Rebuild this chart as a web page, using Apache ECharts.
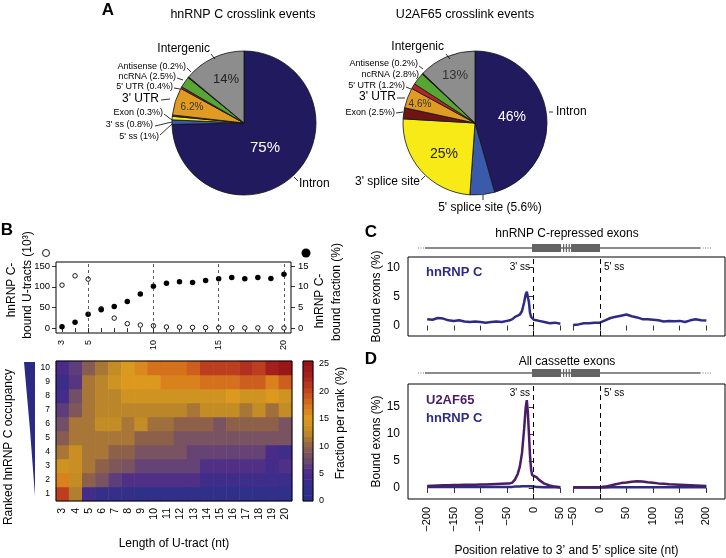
<!DOCTYPE html>
<html lang="en">
<head>
<meta charset="UTF-8">
<title>hnRNP C / U2AF65 crosslinks</title>
<script src="https://cdn.jsdelivr.net/npm/echarts@6.0.0/dist/echarts.min.js"></script>
<style>
    html, body { margin: 0; padding: 0; background: #fff; }
    #main { width: 726px; height: 558px; }
</style>
</head>
<body>
<div id="main"></div>
<script type="text/javascript">
// ---- A: crosslink events per region (%), clockwise from 12 o'clock
var pieNames = ['Intron', "5' ss", "3' ss", 'Exon', "3' UTR", "5' UTR", 'ncRNA', 'Antisense', 'Intergenic'];
var hnrnpPie = [75, 1, 0.8, 0.3, 6.2, 0.4, 2.5, 0.2, 14];
var u2afPie = [46, 5.6, 25, 2.5, 4.6, 1.2, 2.8, 0.2, 13];

// ---- B: U-tracts
var tractLen = [3, 4, 5, 6, 7, 8, 9, 10, 11, 12, 13, 14, 15, 16, 17, 18, 19, 20];
var boundTracts = [104, 126.5, 118.5, 46.8, 24, 10.5, 7.3, 5.6, 2.6, 2.2, 1.5, 1.2, 0.6, 0.6, 0.4, 0.4, 0.3, 0.2];   // x10^3
var boundFraction = [0.3, 1.4, 3.3, 4.4, 5.2, 6.4, 8.2, 10.1, 10.8, 11.2, 11.0, 11.5, 11.9, 12.2, 11.9, 12.2, 12.0, 13.0];
var xLabelsB = [3, 5, 10, 15, 20];
var ranks = [1, 2, 3, 4, 5, 6, 7, 8, 9, 10];
// fraction per rank (%), rows = rank 1..10, columns = U-tract length 3..20
var rankFraction = [
    [21, 12, 4.5, 3, 3, 3, 2.5, 2.5, 2.5, 2.5, 2.5, 2.5, 2.2, 2.5, 2.5, 2.2, 2.5, 2.5],
    [17, 13, 10, 8.5, 6.5, 5.5, 5.5, 5.5, 5.5, 5.5, 5.5, 4, 4, 4, 4, 4, 4, 3.5],
    [14, 13.5, 11.5, 10, 9, 8.5, 7, 7, 7, 7, 7, 5.5, 5.5, 5.5, 5.5, 5.5, 4.5, 5.5],
    [11.5, 13.5, 11.5, 11.5, 10, 10, 8.5, 8.5, 8.5, 8.5, 7, 7, 7, 7, 7, 7, 5, 4],
    [9.5, 11.5, 11.5, 11.5, 11.5, 11.5, 10, 10, 10, 8.5, 8.5, 8.5, 8.5, 8.5, 8.5, 8.5, 8.5, 8.5],
    [8, 11.5, 11.5, 13, 13, 11.5, 13, 11, 11, 10, 10, 10, 8.5, 10, 10, 10, 10, 8.5],
    [6.5, 9, 11.5, 12.5, 12.5, 12.5, 12.5, 12.5, 12.5, 12.5, 11.5, 13, 13, 13, 11.5, 13, 11, 13],
    [4.5, 8, 11.5, 12.5, 12.5, 14, 14, 14, 14, 14, 14, 14, 14, 15.5, 14, 14, 15.5, 14],
    [3.5, 6, 11.5, 12.5, 14, 15.5, 15.5, 15.5, 17, 17, 17, 18, 18, 18, 19, 19, 17, 19],
    [5, 6.5, 9.5, 11.5, 13, 15, 16.5, 18, 18, 18, 19, 21, 21, 21, 22, 21, 23.5, 25]
];
var colorbarTicks = [0, 5, 10, 15, 20, 25];

// ---- C/D: bound exons (%) around 3' ss and 5' ss
var pos3 = [-200, -190, -180, -170, -160, -150, -140, -130, -120, -110, -100, -90, -80, -70, -60, -50, -45, -40, -35, -30, -26, -22, -18, -15, -13, -11, -9, -7, -5, -3, 0, 5, 10, 20, 30, 40, 50];
var pos5 = [-50, -40, -30, -20, -10, 0, 10, 20, 30, 40, 50, 60, 70, 80, 90, 100, 110, 120, 130, 140, 150, 160, 170, 180, 190, 200];
var cHnrnp3 = [1.1, 1.0, 1.3, 1.2, 0.9, 0.8, 0.9, 0.7, 0.6, 0.7, 0.6, 0.5, 0.6, 0.7, 0.6, 0.8, 0.9, 1.1, 1.5, 1.7, 1.9, 2.5, 4.0, 5.4, 5.8, 5.6, 4.0, 2.2, 1.5, 1.2, 1.0, 0.9, 0.8, 0.6, 0.4, 0.5, 0.3];
var cHnrnp5 = [0.1, 0.2, 0.4, 0.4, 0.5, 0.5, 0.9, 1.3, 1.5, 1.7, 1.9, 1.6, 1.4, 1.1, 1.1, 1.0, 0.9, 0.7, 0.8, 0.75, 0.8, 0.6, 0.9, 1.1, 0.9, 0.85];
var dU2af3 = [0.35, 0.4, 0.45, 0.5, 0.5, 0.55, 0.55, 0.6, 0.6, 0.6, 0.65, 0.65, 0.7, 0.75, 0.8, 0.85, 0.85, 1.0, 1.6, 2.6, 4.0, 6.5, 11.0, 15.0, 16.3, 14.0, 10.0, 6.0, 3.5, 2.4, 2.2, 2.0, 1.5, 0.8, 0.45, 0.25, 0.15];
var dU2af5 = [0.15, 0.12, 0.12, 0.12, 0.12, 0.15, 0.25, 0.45, 0.7, 0.9, 1.0, 1.15, 1.25, 1.2, 1.05, 0.95, 0.85, 0.8, 0.7, 0.65, 0.6, 0.55, 0.5, 0.45, 0.4, 0.35];
var dHnrnp3 = [0.2, 0.2, 0.2, 0.2, 0.2, 0.2, 0.2, 0.2, 0.2, 0.2, 0.2, 0.2, 0.2, 0.2, 0.2, 0.2, 0.2, 0.2, 0.25, 0.25, 0.25, 0.3, 0.3, 0.3, 0.3, 0.3, 0.3, 0.3, 0.3, 0.3, 0.25, 0.2, 0.2, 0.15, 0.15, 0.15, 0.1];
var dHnrnp5 = [0.1, 0.1, 0.1, 0.1, 0.1, 0.1, 0.1, 0.15, 0.15, 0.15, 0.15, 0.15, 0.15, 0.15, 0.15, 0.15, 0.15, 0.15, 0.15, 0.15, 0.15, 0.15, 0.15, 0.15, 0.15, 0.15];
var posTicks3 = [-200, -150, -100, -50, 0, 50];
var posTicks5 = [-50, 0, 50, 100, 150, 200];

var FONT = "'Liberation Sans', Arial, sans-serif";
var SHIFT5 = 124;   // where the 5' ss window starts on the shared x axis
var pieColors = ['#211a5e', '#3a5bab', '#f7ea16', '#6e1414', '#e09c22', '#b52428', '#57a533', '#111111', '#8d8d8d'];
var heatColors = ['#2b2e87', '#30308a', '#4a2b8a', '#6e4b6e', '#906247', '#c08a26', '#de9c1e', '#d6731d', '#c2471f', '#a8221f', '#971416'];
var hnColor = '#2e2b86', u2Color = '#4a1c68';

var chart = echarts.init(document.getElementById('main'));

function pieData(vals) {
    return vals.map(function (v, i) { return { name: pieNames[i], value: v, itemStyle: { color: pieColors[i] } }; });
}
function seg(pos, vals, shift) {
    return pos.map(function (p, i) { return [p + shift, vals[i]]; });
}
var heatData = [];
rankFraction.forEach(function (row, r) {
    row.forEach(function (v, c) { heatData.push([c, r, v]); });
});
var cbBands = [], cbData = [];
for (var k = 0; k < 26; k++) { cbBands.push(k); cbData.push([0, k, k + 0.5]); }
var posTicks = posTicks3.concat(posTicks5.map(function (p) { return p + SHIFT5; }));
function posLabel(v) {
    var p = v > 60 ? v - SHIFT5 : v;
    return p < 0 ? '\u2212' + (-p) : '' + p;
}

// ---- text helpers
function txt(x, y, s, size, align, color, weight, rot) {
    return {
        type: 'text', x: x, y: y, z: 100, rotation: rot || 0, silent: true,
        style: { text: s, fill: color || '#000', font: (weight || 'normal') + ' ' + size + 'px ' + FONT,
                 align: align || 'center', verticalAlign: 'middle' }
    };
}
function seg2(x1, y1, x2, y2, w, color, dash) {
    return { type: 'line', silent: true, z: 100, shape: { x1: x1, y1: y1, x2: x2, y2: y2 },
             style: { stroke: color || '#000', lineWidth: w || 0.8, lineDash: dash || null } };
}
function exonDiagram(y) {
    return [
        seg2(418, y, 425, y, 1.2, '#777', [1, 1.5]),
        seg2(425, y, 700, y, 1.5, '#666'),
        seg2(700, y, 711, y, 1.2, '#777', [1, 1.5]),
        { type: 'rect', silent: true, shape: { x: 532, y: y - 4, width: 29, height: 8 }, style: { fill: '#636363' } },
        { type: 'rect', silent: true, shape: { x: 571, y: y - 4, width: 29, height: 8 }, style: { fill: '#636363' } },
        { type: 'rect', silent: true, shape: { x: 563, y: y - 4, width: 1.2, height: 8 }, style: { fill: '#636363' } },
        { type: 'rect', silent: true, shape: { x: 565.8, y: y - 4, width: 1.2, height: 8 }, style: { fill: '#636363' } },
        { type: 'rect', silent: true, shape: { x: 568.6, y: y - 4, width: 1.2, height: 8 }, style: { fill: '#636363' } }
    ];
}

var pct = function (v) { return ' (' + v + '%)'; };
var graphics = [
    txt(108, 10, 'A', 17, 'center', '#000', 'bold'),
    txt(7, 230, 'B', 17, 'center', '#000', 'bold'),
    txt(371, 232, 'C', 17, 'center', '#000', 'bold'),
    txt(371, 359, 'D', 17, 'center', '#000', 'bold'),
    txt(243, 15, 'hnRNP C crosslink events', 12.5),
    txt(465, 15, 'U2AF65 crosslink events', 12.5),
    // left pie labels
    txt(210, 49, pieNames[8], 12, 'right'),
    txt(186, 67, pieNames[7] + pct(hnrnpPie[7]), 9, 'right'),
    txt(176, 77, pieNames[6] + pct(hnrnpPie[6]), 9, 'right'),
    txt(173, 87, pieNames[5] + pct(hnrnpPie[5]), 9, 'right'),
    txt(159, 99, pieNames[4], 12, 'right'),
    txt(163, 113, pieNames[3] + pct(hnrnpPie[3]), 9, 'right'),
    txt(153, 125, pieNames[2] + pct(hnrnpPie[2]), 9, 'right'),
    txt(159, 137, pieNames[1] + pct(hnrnpPie[1]), 9, 'right'),
    txt(299, 184, pieNames[0], 12, 'left'),
    txt(226, 79, hnrnpPie[8] + '%', 13, 'center', '#222'),
    txt(192, 107, hnrnpPie[4] + '%', 10, 'center', '#333'),
    txt(265, 148, hnrnpPie[0] + '%', 15, 'center', '#fff'),
    seg2(211, 54, 215, 59), seg2(187, 68, 191, 72), seg2(177, 78, 183, 80), seg2(174, 88, 180, 89),
    seg2(161, 100, 170, 99), seg2(164, 114, 172, 120), seg2(155, 126, 172, 122), seg2(160, 135, 172, 124),
    seg2(298, 181, 294, 177),
    // right pie labels
    txt(444, 47, pieNames[8], 12, 'right'),
    txt(418, 64, pieNames[7] + pct(u2afPie[7]), 9, 'right'),
    txt(419, 75, pieNames[6] + pct(u2afPie[6]), 9, 'right'),
    txt(405, 86, pieNames[5] + pct(u2afPie[5]), 9, 'right'),
    txt(396, 97, pieNames[4], 12, 'right'),
    txt(395, 113, pieNames[3] + pct(u2afPie[3]), 9, 'right'),
    txt(420, 182, "3' splice site", 12, 'right'),
    txt(490, 208, "5' splice site" + pct(u2afPie[1]), 12, 'center'),
    txt(556, 112, pieNames[0], 12, 'left'),
    txt(512, 117, u2afPie[0] + '%', 14, 'center', '#fff'),
    txt(444, 154, u2afPie[2] + '%', 14, 'center', '#222'),
    txt(455, 75, u2afPie[8] + '%', 13, 'center', '#333'),
    txt(420, 104, u2afPie[4] + '%', 10, 'center', '#333'),
    seg2(446, 54, 450, 59), seg2(419, 66, 423, 69), seg2(406, 87, 411, 89), seg2(397, 98, 405, 98),
    seg2(396, 113, 403, 112), seg2(421, 180, 425, 176), seg2(483, 200, 483, 195), seg2(549, 112, 553, 112),
    // B titles
    txt(12, 290, 'hnRNP C-', 12, 'center', '#000', 'normal', Math.PI / 2),
    txt(28, 285, 'bound U-tracts (10\u00b3)', 12, 'center', '#000', 'normal', Math.PI / 2),
    txt(320, 301, 'hnRNP C-', 12, 'center', '#000', 'normal', Math.PI / 2),
    txt(337, 292, 'bound fraction (%)', 12, 'center', '#000', 'normal', Math.PI / 2),
    txt(9, 447, 'Ranked hnRNP C occupancy', 12, 'center', '#000', 'normal', Math.PI / 2),
    txt(341, 423, 'Fraction per rank (%)', 12, 'center', '#000', 'normal', Math.PI / 2),
    { type: 'circle', silent: true, shape: { cx: 46, cy: 253, r: 3.5 }, style: { fill: '#fff', stroke: '#000', lineWidth: 0.9 } },
    { type: 'circle', silent: true, shape: { cx: 306, cy: 253, r: 4.5 }, style: { fill: '#000' } },
    { type: 'polygon', silent: true, shape: { points: [[24, 362], [35, 362], [35, 496], [30, 430]] }, style: { fill: '#2b2b84' } },
    // C / D decorations
    txt(567, 234, 'hnRNP C-repressed exons', 12),
    txt(567, 362, 'All cassette exons', 12),
    txt(426, 272, 'hnRNP C', 13, 'left', hnColor, 'bold'),
    txt(426, 400, 'U2AF65', 13, 'left', u2Color, 'bold'),
    txt(426, 418, 'hnRNP C', 13, 'left', hnColor, 'bold'),
    txt(530, 267, "3' ss", 10, 'right'),
    txt(604, 267, "5' ss", 10, 'left'),
    txt(530, 393, "3' ss", 10, 'right'),
    txt(604, 393, "5' ss", 10, 'left')
].concat(exonDiagram(248), exonDiagram(373));

var tickStyle = { color: '#000', width: 0.8 };
var labStyle = function (size) { return { color: '#000', fontFamily: FONT, fontSize: size }; };
var ssLine = {
    silent: true, symbol: ['none', 'none'], label: { show: false },
    lineStyle: { color: '#000', type: [5, 4], width: 1 },
    data: [{ xAxis: 0 }, { xAxis: SHIFT5 }]
};

var option = {
    animation: false,
    textStyle: { fontFamily: FONT },
    graphic: { elements: graphics },
    grid: [
        { left: 56, top: 262, width: 235, height: 71, show: true, borderColor: '#000', borderWidth: 1, z: 10 },
        { left: 56, top: 361, width: 236, height: 140, show: true, borderColor: '#000', borderWidth: 1, z: 10 },
        { left: 303, top: 361, width: 10, height: 140, show: true, borderColor: '#000', borderWidth: 1, z: 10 },
        { left: 408, top: 257, width: 317, height: 79, show: true, borderColor: '#000', borderWidth: 1 },
        { left: 408, top: 384, width: 317, height: 125, show: true, borderColor: '#000', borderWidth: 1 }
    ],
    xAxis: [
        { type: 'value', gridIndex: 0, min: 2.54, max: 20.54, splitLine: { show: false }, axisLine: { show: false },
          axisTick: { length: 4, lineStyle: tickStyle, customValues: tractLen },
          axisLabel: Object.assign(labStyle(9), { customValues: xLabelsB, rotate: 90, margin: 7 }) },
        { type: 'category', gridIndex: 1, data: tractLen, axisLine: { show: false },
          axisTick: { alignWithLabel: true, length: 5, lineStyle: tickStyle },
          axisLabel: Object.assign(labStyle(10.5), { interval: 0, rotate: 90, margin: 7 }),
          name: 'Length of U-tract (nt)', nameLocation: 'middle', nameGap: 37,
          nameTextStyle: labStyle(12) },
        { type: 'category', gridIndex: 1, position: 'top', data: tractLen, axisLine: { show: false },
          axisTick: { alignWithLabel: true, length: 4, lineStyle: tickStyle }, axisLabel: { show: false } },
        { type: 'category', gridIndex: 2, data: ['cb'], show: false },
        { type: 'value', gridIndex: 3, min: -236, max: 359, splitLine: { show: false }, axisLine: { show: false },
          axisTick: { length: 5, lineStyle: tickStyle, customValues: posTicks }, axisLabel: { show: false } },
        { type: 'value', gridIndex: 4, min: -236, max: 359, splitLine: { show: false }, axisLine: { show: false },
          axisTick: { length: 5, lineStyle: tickStyle, customValues: posTicks },
          axisLabel: Object.assign(labStyle(11), { customValues: posTicks, rotate: 90, margin: 8, formatter: posLabel }),
          name: "Position relative to 3\u2019 and 5\u2019 splice site (nt)", nameLocation: 'middle', nameGap: 46,
          nameTextStyle: labStyle(12) }
    ],
    yAxis: [
        { type: 'value', gridIndex: 0, min: -12, max: 160, splitLine: { show: false }, axisLine: { show: false },
          axisTick: { length: 4, lineStyle: tickStyle, customValues: [0, 50, 100, 150] },
          axisLabel: Object.assign(labStyle(9.5), { customValues: [0, 50, 100, 150], margin: 6 }) },
        { type: 'value', gridIndex: 0, position: 'right', min: -1.21, max: 15.97, splitLine: { show: false }, axisLine: { show: false },
          axisTick: { length: 4, lineStyle: tickStyle, customValues: [0, 5, 10, 15] },
          axisLabel: Object.assign(labStyle(9.5), { customValues: [0, 5, 10, 15], margin: 7 }) },
        { type: 'category', gridIndex: 1, data: ranks, axisLine: { show: false },
          axisTick: { alignWithLabel: true, length: 4, lineStyle: tickStyle },
          axisLabel: Object.assign(labStyle(8.5), { interval: 0, margin: 6 }) },
        { type: 'category', gridIndex: 2, data: cbBands, show: false },
        { type: 'value', gridIndex: 2, position: 'right', min: 0, max: 25.55, splitLine: { show: false }, axisLine: { show: false },
          axisTick: { length: 4, lineStyle: tickStyle, customValues: colorbarTicks },
          axisLabel: Object.assign(labStyle(9), { customValues: colorbarTicks, margin: 6 }) },
        { type: 'value', gridIndex: 3, min: -1.8, max: 11.8, splitLine: { show: false }, axisLine: { show: false },
          axisTick: { length: 5, lineStyle: tickStyle, customValues: [0, 5, 10] },
          axisLabel: Object.assign(labStyle(12), { customValues: [0, 5, 10], margin: 8 }),
          name: 'Bound exons (%)', nameLocation: 'middle', nameRotate: 90, nameGap: 24, nameTextStyle: labStyle(12) },
        { type: 'value', gridIndex: 4, min: -2.05, max: 19.3, splitLine: { show: false }, axisLine: { show: false },
          axisTick: { length: 5, lineStyle: tickStyle, customValues: [0, 5, 10, 15] },
          axisLabel: Object.assign(labStyle(12), { customValues: [0, 5, 10, 15], margin: 8 }),
          name: 'Bound exons (%)', nameLocation: 'middle', nameRotate: 90, nameGap: 24, nameTextStyle: labStyle(12) }
    ],
    visualMap: [{
        type: 'continuous', show: false, min: 0, max: 25.5, seriesIndex: [4, 5],
        inRange: { color: heatColors }
    }],
    series: [
        { type: 'pie', center: [244, 123], radius: 72, silent: true, label: { show: false }, labelLine: { show: false },
          itemStyle: { borderColor: '#111', borderWidth: 0.8 }, data: pieData(hnrnpPie) },
        { type: 'pie', center: [475, 123], radius: 72, silent: true, label: { show: false }, labelLine: { show: false },
          itemStyle: { borderColor: '#111', borderWidth: 0.8 }, data: pieData(u2afPie) },
        { type: 'scatter', xAxisIndex: 0, yAxisIndex: 0, symbolSize: 4.5, silent: true,
          itemStyle: { color: '#fff', borderColor: '#000', borderWidth: 0.9, opacity: 1 },
          data: tractLen.map(function (n, i) { return [n, boundTracts[i]]; }) },
        { type: 'scatter', xAxisIndex: 0, yAxisIndex: 1, symbolSize: 5.5, silent: true, itemStyle: { color: '#000', opacity: 1 },
          data: tractLen.map(function (n, i) { return [n, boundFraction[i]]; }),
          markLine: { silent: true, symbol: ['none', 'none'], label: { show: false },
                      lineStyle: { color: '#333', type: [3, 3], width: 0.8 },
                      data: [{ xAxis: 5 }, { xAxis: 10 }, { xAxis: 15 }, { xAxis: 20 }] } },
        { type: 'heatmap', xAxisIndex: 1, yAxisIndex: 2, silent: true, data: heatData },
        { type: 'heatmap', xAxisIndex: 3, yAxisIndex: 3, silent: true, data: cbData },
        { type: 'line', xAxisIndex: 4, yAxisIndex: 5, showSymbol: false, silent: true,
          lineStyle: { color: hnColor, width: 2.5 }, data: seg(pos3, cHnrnp3, 0), markLine: ssLine },
        { type: 'line', xAxisIndex: 4, yAxisIndex: 5, showSymbol: false, silent: true,
          lineStyle: { color: hnColor, width: 2.5 }, data: seg(pos5, cHnrnp5, SHIFT5) },
        { type: 'line', xAxisIndex: 5, yAxisIndex: 6, showSymbol: false, silent: true,
          lineStyle: { color: hnColor, width: 2.5 }, data: seg(pos3, dHnrnp3, 0), markLine: ssLine },
        { type: 'line', xAxisIndex: 5, yAxisIndex: 6, showSymbol: false, silent: true,
          lineStyle: { color: hnColor, width: 2.5 }, data: seg(pos5, dHnrnp5, SHIFT5) },
        { type: 'line', xAxisIndex: 5, yAxisIndex: 6, showSymbol: false, silent: true,
          lineStyle: { color: u2Color, width: 2.5 }, data: seg(pos3, dU2af3, 0) },
        { type: 'line', xAxisIndex: 5, yAxisIndex: 6, showSymbol: false, silent: true,
          lineStyle: { color: u2Color, width: 2.5 }, data: seg(pos5, dU2af5, SHIFT5) }
    ]
};
chart.setOption(option);
</script>
</body>
</html>
